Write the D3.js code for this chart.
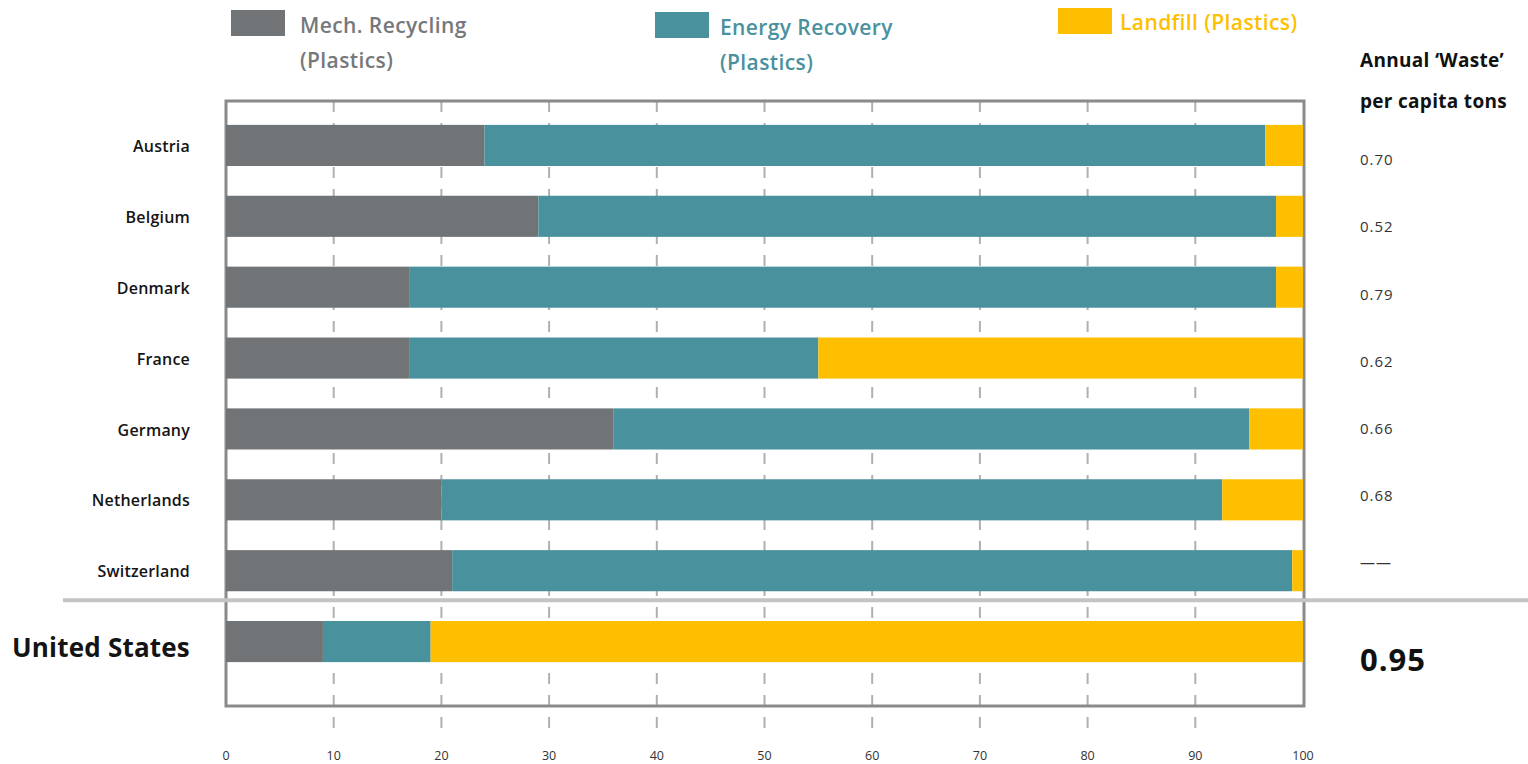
<!DOCTYPE html>
<html>
<head>
<meta charset="utf-8">
<script src="https://cdn.jsdelivr.net/npm/d3@7"></script>
<style>
  body { margin: 0; background: #fff; }
  svg { display: block; font-family: "Open Sans", "Noto Sans", sans-serif; }
</style>
</head>
<body>
<svg id="chart" width="1528" height="764"></svg>
<script>
const countries = ["Austria", "Belgium", "Denmark", "France", "Germany", "Netherlands", "Switzerland", "United States"];
const mechRecycling = [24, 29, 17, 17, 36, 20, 21, 9];
const energyRecovery = [72.5, 68.5, 80.5, 38, 59, 72.5, 78, 10];
const landfill = [3.5, 2.5, 2.5, 45, 5, 7.5, 1, 81];
const wastePerCapita = ["0.70", "0.52", "0.79", "0.62", "0.66", "0.68", "\u2014\u2014", "0.95"];
const seriesNames = [["Mech. Recycling", "(Plastics)"], ["Energy Recovery", "(Plastics)"], ["Landfill (Plastics)"]];
const xTicks = [0, 10, 20, 30, 40, 50, 60, 70, 80, 90, 100];

const colors = ["#717477", "#4a919e", "#fdbf00"];
const textColors = ["#76787b", "#4a919e", "#fdc000"];

const svg = d3.select("#chart");
const frame = { left: 226, right: 1304, top: 101, bottom: 706 };

const x = d3.scaleLinear().domain([0, 100]).range([226, 1303]);
const y = d3.scaleBand().domain(countries).range([110, 677]).paddingInner(0.42).paddingOuter(0.21);
// the per-capita column is spaced on its own in the source
const yValue = d3.scalePoint().domain(countries.slice(0, 7)).range([160, 563]);

const rows = countries.map((c, i) => ({
  country: c,
  values: [mechRecycling[i], energyRecovery[i], landfill[i]],
  waste: wastePerCapita[i],
  us: c === "United States"
}));

// dashed grid lines, behind the bars
svg.append("g")
  .selectAll("line")
  .data(xTicks.filter(t => t > 0 && t < 100))
  .join("line")
  .attr("x1", d => x(d)).attr("x2", d => x(d))
  .attr("y1", frame.top).attr("y2", frame.bottom + 22)
  .attr("stroke", "#b0b0b0")
  .attr("stroke-width", 2)
  .attr("stroke-dasharray", "11,11");

// frame
svg.append("rect")
  .attr("x", frame.left).attr("y", frame.top)
  .attr("width", frame.right - frame.left).attr("height", frame.bottom - frame.top)
  .attr("fill", "none")
  .attr("stroke", "#8a8a8a")
  .attr("stroke-width", 3);

// stacked bars
const bars = svg.append("g");
rows.forEach(r => {
  let acc = 0;
  r.values.forEach((v, k) => {
    bars.append("rect")
      .attr("x", x(acc))
      .attr("y", y(r.country))
      .attr("width", x(acc + v) - x(acc))
      .attr("height", y.bandwidth())
      .attr("fill", colors[k]);
    acc += v;
  });
});

// separator between Europe and US
const sepY = y("Switzerland") + y.bandwidth() + 9;
svg.append("line")
  .attr("x1", 63).attr("x2", 1528)
  .attr("y1", sepY).attr("y2", sepY)
  .attr("stroke", "#c4c4c4")
  .attr("stroke-width", 4);

// country labels
svg.append("g")
  .selectAll("text")
  .data(rows)
  .join("text")
  .attr("x", 190)
  .attr("y", d => y(d.country) + y.bandwidth() / 2 + (d.us ? 6 : 1))
  .attr("dy", "0.35em")
  .attr("text-anchor", "end")
  .attr("font-size", d => d.us ? 26 : 16)
  .attr("font-weight", d => d.us ? 700 : 600)
  .attr("letter-spacing", 0.2)
  .attr("fill", "#141414")
  .text(d => d.country);

// per-capita column
svg.append("g")
  .selectAll("text")
  .data(rows)
  .join("text")
  .attr("x", 1360)
  .attr("y", d => d.us ? 660 : yValue(d.country))
  .attr("dy", "0.35em")
  .attr("font-size", d => d.us ? 31 : 15)
  .attr("font-weight", d => d.us ? 700 : 400)
  .attr("letter-spacing", 1)
  .attr("fill", d => d.us ? "#111" : "#333")
  .text(d => d.waste);

svg.append("text")
  .attr("x", 1360).attr("y", 67)
  .attr("font-size", 19).attr("font-weight", 700).attr("letter-spacing", 0.3).attr("fill", "#111")
  .text("Annual \u2018Waste\u2019");
svg.append("text")
  .attr("x", 1360).attr("y", 108)
  .attr("font-size", 19).attr("font-weight", 700).attr("letter-spacing", 0.3).attr("fill", "#111")
  .text("per capita tons");

// x axis labels
svg.append("g")
  .selectAll("text")
  .data(xTicks)
  .join("text")
  .attr("x", d => x(d))
  .attr("y", 760)
  .attr("text-anchor", "middle")
  .attr("font-size", 12.5)
  .attr("fill", "#333")
  .text(d => d);

// legend
const legendPos = [
  { sx: 231, sy: 10, tx: 300, ty: 33 },
  { sx: 655, sy: 12, tx: 720, ty: 35 },
  { sx: 1058, sy: 8, tx: 1120, ty: 30 }
];
const legend = svg.append("g");
seriesNames.forEach((lines, k) => {
  const p = legendPos[k];
  legend.append("rect")
    .attr("x", p.sx).attr("y", p.sy)
    .attr("width", 54).attr("height", 26)
    .attr("fill", colors[k]);
  const t = legend.append("text")
    .attr("x", p.tx).attr("y", p.ty)
    .attr("font-size", 21).attr("font-weight", 600)
    .attr("letter-spacing", 0.4)
    .attr("fill", textColors[k]);
  lines.forEach((line, j) => {
    t.append("tspan").attr("x", p.tx).attr("dy", j === 0 ? 0 : 35).text(line);
  });
});
</script>
</body>
</html>
